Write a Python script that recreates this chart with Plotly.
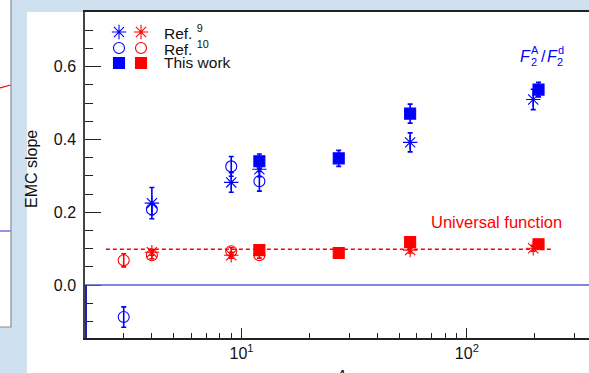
import plotly.graph_objects as go

# ---------------- data ----------------
# F2^A / F2^d (blue)
ref9_A = [4, 9, 12, 56, 197]
ref9_slope = [0.225, 0.282, 0.318, 0.392, 0.510]
ref9_err = [0.043, 0.027, 0.020, 0.026, 0.028]

ref10_A = [3, 4, 9, 12]
ref10_slope = [-0.088, 0.208, 0.326, 0.285]
ref10_err = [0.028, 0.015, 0.027, 0.027]

this_A = [12, 27, 56, 208]
this_slope = [0.340, 0.348, 0.471, 0.537]
this_err = [0.020, 0.022, 0.026, 0.020]

# Universal function (red)
ref9u_A = [4, 9, 56, 197]
ref9u_slope = [0.090, 0.082, 0.096, 0.101]
ref9u_err = [0.008, 0.008, 0.008, 0.008]

ref10u_A = [3, 4, 9, 12]
ref10u_slope = [0.068, 0.082, 0.093, 0.082]
ref10u_err = [0.018, 0.010, 0.010, 0.008]

thisu_A = [12, 27, 56, 208]
thisu_slope = [0.096, 0.088, 0.118, 0.112]
thisu_err = [0.004, 0.004, 0.004, 0.004]

univ_A = [2.5, 240]
univ_val = [0.098, 0.098]

x_major = [10, 100]
x_major_text = ["10<sup>1</sup>", "10<sup>2</sup>"]
x_minor = [3, 4, 5, 6, 7, 8, 9, 20, 30, 40, 50, 60, 70, 80, 90, 200, 300]
y_major = [0.0, 0.2, 0.4, 0.6]
y_major_text = ["0.0", "0.2", "0.4", "0.6"]

# ---------------- layout geometry ----------------
W, H = 589, 373
L, R, T, B = 85, 589, 12, 338
BLUE = "#0000ff"
RED = "#ff0000"
FONT = "Liberation Sans, Arial, sans-serif"


def px(x):
    return (x - L) / (R - L)


def py(y):
    return (B - y) / (B - T)


fig = go.Figure()


def marker_style(symbol, color, size):
    return dict(symbol=symbol, size=size, color=color,
                line=dict(color=color, width=1.1))


def add_series(A, v, e, symbol, color, size):
    fig.add_trace(go.Scatter(
        x=A, y=v, mode="markers",
        error_y=dict(type="data", array=e, color=color, thickness=1.6, width=2.5),
        marker=marker_style(symbol, color, size),
        showlegend=False, cliponaxis=False))


# universal function line
fig.add_trace(go.Scatter(x=univ_A, y=univ_val, mode="lines",
                         line=dict(color=RED, width=1.5, dash="4px,3px"),
                         showlegend=False))

add_series(ref10u_A, ref10u_slope, ref10u_err, "circle-open", RED, 11)
add_series(ref9u_A, ref9u_slope, ref9u_err, "asterisk-open", RED, 12)
add_series(thisu_A, thisu_slope, thisu_err, "square", RED, 11)

add_series(ref10_A, ref10_slope, ref10_err, "circle-open", BLUE, 11)
add_series(ref9_A, ref9_slope, ref9_err, "asterisk-open", BLUE, 12)
add_series(this_A, this_slope, this_err, "square", BLUE, 11)

# legend symbols on an overlay axis in plot-fraction units
leg_rows = [("asterisk-open", 12), ("circle-open", 11), ("square", 11)]
leg_y = [py(32), py(48), py(63)]
leg_labels = ["Ref. <sup>9</sup>", "Ref. <sup>10</sup>", "This work"]
for (sym, size), yy in zip(leg_rows, leg_y):
    for xx, col in ((px(119), BLUE), (px(141), RED)):
        fig.add_trace(go.Scatter(
            x=[xx], y=[yy], xaxis="x2", yaxis="y2", mode="markers",
            marker=marker_style(sym, col, size),
            showlegend=False, hoverinfo="skip"))

annotations = []
for lab, yy in zip(leg_labels, leg_y):
    annotations.append(dict(text=lab, x=px(162), y=yy, xref="paper", yref="paper",
                            xanchor="left", yanchor="middle", showarrow=False,
                            font=dict(size=15.5, color="#111111", family=FONT)))

annotations.append(dict(text="Universal function", x=px(429), y=py(222),
                        xref="paper", yref="paper", xanchor="left", yanchor="middle",
                        showarrow=False, font=dict(size=16.5, color=RED, family=FONT)))

# F2^A / F2^d label built from pieces (stacked sub/superscripts)
fpieces = [
    ("<i>F</i>", 518, 57, 16),
    ("A", 529, 50, 11),
    ("2", 529, 62, 11),
    ("/", 539, 57, 16),
    ("<i>F</i>", 545, 57, 16),
    ("d", 556, 50, 11),
    ("2", 555, 62, 11),
]
for t, xx, yy, fs in fpieces:
    annotations.append(dict(text=t, x=px(xx), y=py(yy), xref="paper", yref="paper",
                            xanchor="left", yanchor="middle", showarrow=False,
                            font=dict(size=fs, color=BLUE, family=FONT)))

annotations.append(dict(text="EMC slope", x=px(31), y=py(169), xref="paper", yref="paper",
                        textangle=-90, xanchor="center", yanchor="middle", showarrow=False,
                        font=dict(size=16, color="#111111", family=FONT)))
annotations.append(dict(text="<i>A</i>", x=px(341), y=py(366), xref="paper", yref="paper",
                        xanchor="center", yanchor="top", showarrow=False,
                        font=dict(size=16, color="#111111", family=FONT)))

shapes = [
    # main white panel
    dict(type="rect", xref="paper", yref="paper", x0=px(27), x1=px(600), y0=py(380), y1=py(12),
         fillcolor="white", line=dict(width=0), layer="below"),
    # left partial panel
    dict(type="rect", xref="paper", yref="paper", x0=px(-5), x1=px(11), y0=py(327), y1=py(-5),
         fillcolor="white", line=dict(color="#8a8a8a", width=1.2), layer="below"),
    dict(type="line", xref="paper", yref="paper", x0=px(0), x1=px(10.5), y0=py(88), y1=py(85),
         line=dict(color=RED, width=1.3)),
    dict(type="line", xref="paper", yref="paper", x0=px(0), x1=px(10.5), y0=py(231), y1=py(231),
         line=dict(color="#5a5ad8", width=1.3)),
    # zero line
    dict(type="line", xref="paper", yref="y", x0=0, x1=1, y0=0, y1=0,
         line=dict(color="#5a5ad8", width=1.5)),
    # blue segment on left axis below zero
    dict(type="line", xref="paper", yref="y", x0=0.002, x1=0.002, y0=-0.15, y1=0,
         line=dict(color="#2020c0", width=2)),
]

fig.update_layout(
    width=W, height=H,
    margin=dict(l=L, r=W - R, t=T, b=H - B),
    paper_bgcolor="#cfe0f1",
    plot_bgcolor="white",
    font=dict(family=FONT, size=15, color="#111111"),
    showlegend=False,
    annotations=annotations,
    shapes=shapes,
    xaxis=dict(type="log", range=[0.3053, 2.542], showgrid=False, zeroline=False,
               showline=True, linecolor="#222222", linewidth=1.5, mirror=True,
               ticks="inside", ticklen=10, tickwidth=1.2, tickcolor="#222222",
               tickmode="array", tickvals=x_major, ticktext=x_major_text,
               tickfont=dict(size=16),
               minor=dict(tickmode="array", tickvals=x_minor, ticks="inside",
                          ticklen=5, tickwidth=1.2, tickcolor="#222222", showgrid=False)),
    yaxis=dict(range=[-0.1456, 0.7503], showgrid=False, zeroline=False,
               showline=True, linecolor="#444444", linewidth=1.5,
               ticks="inside", ticklen=16, tickwidth=1.2, tickcolor="#222222",
               tickmode="array", tickvals=y_major, ticktext=y_major_text,
               tickfont=dict(size=16), ticklabelstandoff=4,
               minor=dict(dtick=0.05, tick0=0, ticks="inside", ticklen=8,
                          tickwidth=1.2, tickcolor="#222222", showgrid=False)),
    xaxis2=dict(overlaying="x", range=[0, 1], visible=False, anchor="y2"),
    yaxis2=dict(overlaying="y", range=[0, 1], visible=False, anchor="x2"),
)

fig.write_html("out.html")
